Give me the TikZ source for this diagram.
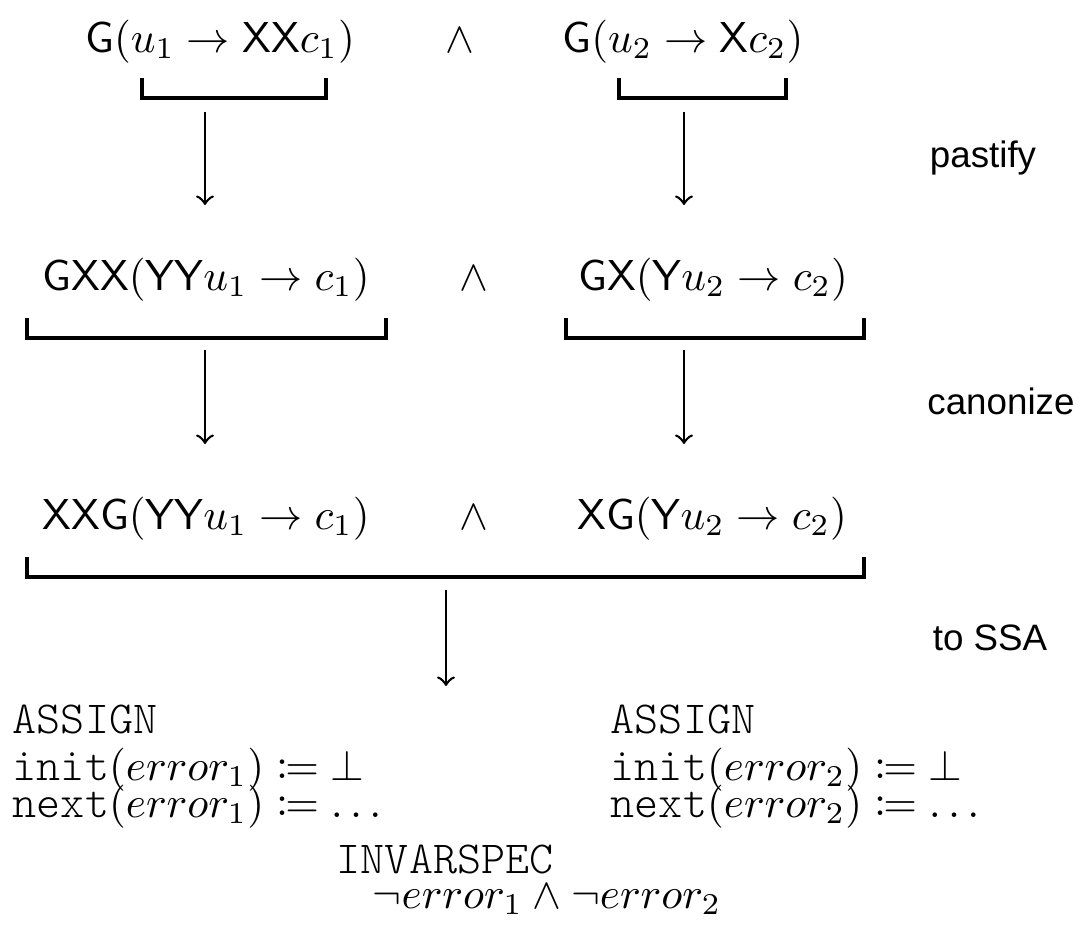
\documentclass[tikz,border=0pt]{standalone}
\usepackage{amsmath,amssymb}
\usepackage{mathtools}
\usepackage{fontspec}
\newfontfamily\labfont{Liberation Sans}[Scale=0.85]
\newfontfamily\codefont{Latin Modern Mono Light}[Scale=1.06]
\begin{document}
\begin{tikzpicture}[x=0.2313pt,y=-0.2313pt,
  formula/.style={inner sep=0pt, anchor=base},
  brk/.style={line width=0.75pt},
  flow/.style={->, line width=0.6pt, >=to},
  lab/.style={font=\labfont, inner sep=0pt},
  code/.style={inner sep=0pt, anchor=base west, align=left}]
\useasboundingbox (0,0) rectangle (1085,926);

% row 1
\node[formula] (a1) at (220,52) {$\mathsf{G}(u_1 \rightarrow \mathsf{XX}c_1)$};
\node[formula] (and1) at (460,52) {$\wedge$};
\node[formula] (b1) at (683,52) {$\mathsf{G}(u_2 \rightarrow \mathsf{X}c_2)$};
\draw[brk] (142,78) |- (326,98) -- (326,78);
\draw[brk] (619,78) |- (786,98) -- (786,78);
\coordinate (a1s) at (205,112);
\coordinate (b1s) at (684,112);
\coordinate (a2t) at (205,205);
\coordinate (b2t) at (684,205);
\draw[flow] (a1s) -- (a2t);
\draw[flow] (b1s) -- (b2t);
\node[lab] (l1) at (983,158) {pastify};

% row 2
\node[formula] (a2) at (206,290) {$\mathsf{GXX}(\mathsf{YY}u_1 \rightarrow c_1)$};
\node[formula] (and2) at (474,290) {$\wedge$};
\node[formula] (b2) at (713,290) {$\mathsf{GX}(\mathsf{Y}u_2 \rightarrow c_2)$};
\draw[brk] (27,318) |- (386,338) -- (386,318);
\draw[brk] (566,318) |- (864,338) -- (864,318);
\coordinate (a2s) at (205,350);
\coordinate (b2s) at (684,350);
\coordinate (a3t) at (205,444);
\coordinate (b3t) at (684,444);
\draw[flow] (a2s) -- (a3t);
\draw[flow] (b2s) -- (b3t);
\node[lab] (l2) at (1001,401) {canonize};

% row 3
\node[formula] (a3) at (206,529) {$\mathsf{XXG}(\mathsf{YY}u_1 \rightarrow c_1)$};
\node[formula] (and3) at (474,529) {$\wedge$};
\node[formula] (b3) at (712,529) {$\mathsf{XG}(\mathsf{Y}u_2 \rightarrow c_2)$};
\draw[brk] (27,557) |- (864,577) -- (864,557);
\coordinate (c3s) at (446,590);
\coordinate (c4t) at (446,686);
\draw[flow] (c3s) -- (c4t);
\node[lab] (l3) at (990,638) {to SSA};

% SSA code
\node[code] (asg1) at (12,733) {\codefont ASSIGN};
\node[code] (ini1) at (12,780) {\codefont init$(error_1) \coloneqq \bot$};
\node[code] (nxt1) at (12,817) {\codefont next$(error_1) \coloneqq \ldots$};
\node[code] (asg2) at (610,733) {\codefont ASSIGN};
\node[code] (ini2) at (610,780) {\codefont init$(error_2) \coloneqq \bot$};
\node[code] (nxt2) at (610,817) {\codefont next$(error_2) \coloneqq \ldots$};
\node[code] (inv) at (336,873) {\codefont INVARSPEC};
\node[code] (prop) at (372,908) {$\neg error_1 \wedge \neg error_2$};
\end{tikzpicture}
\end{document}
